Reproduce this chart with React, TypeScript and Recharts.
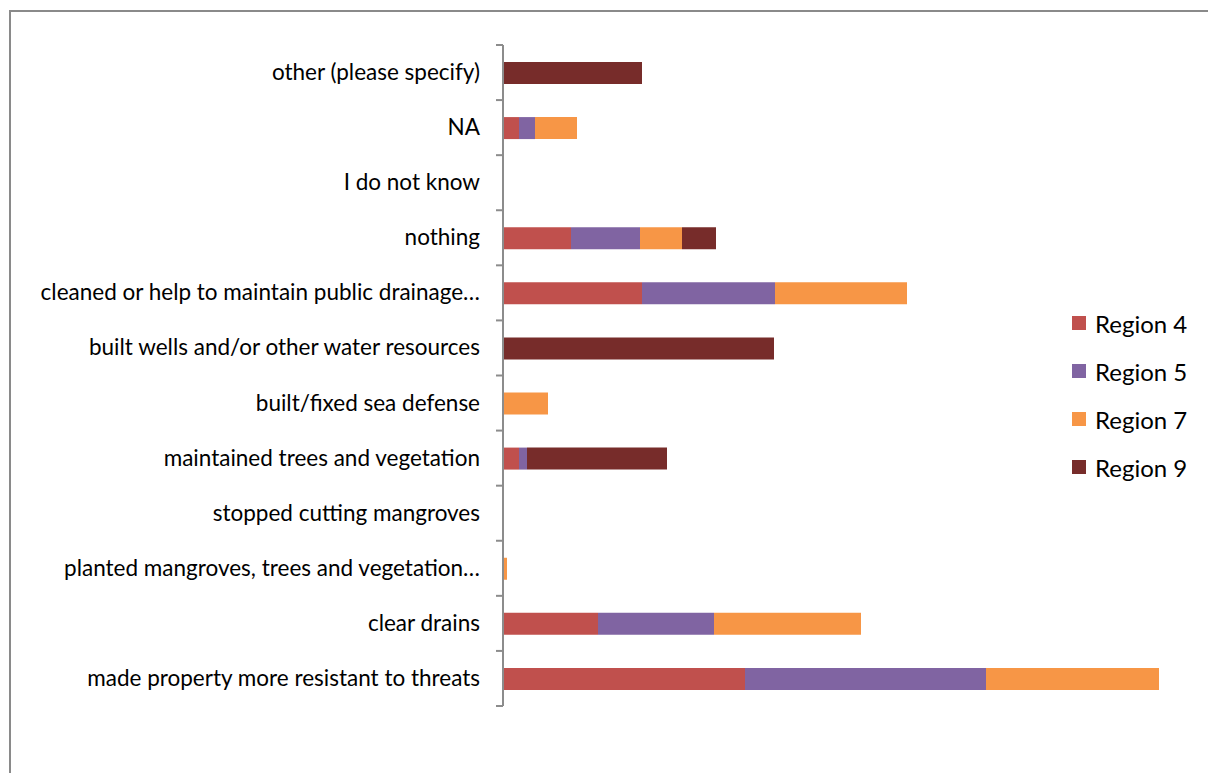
import React from 'react';
import { BarChart, Bar, XAxis, YAxis } from 'recharts';

const categories = [
  'other (please specify)',
  'NA',
  'I do not know',
  'nothing',
  'cleaned or help to maintain public drainage…',
  'built wells and/or other water resources',
  'built/fixed sea defense',
  'maintained trees and vegetation',
  'stopped cutting mangroves',
  'planted mangroves, trees and vegetation…',
  'clear drains',
  'made property more resistant to threats',
];

const region4 = [0, 1.6, 0, 6.8, 13.9, 0.1, 0, 1.6, 0, 0, 9.5, 24.2];
const region5 = [0, 1.6, 0, 6.9, 13.3, 0, 0, 0.8, 0, 0, 11.6, 24.1];
const region7 = [0, 4.2, 0, 4.2, 13.2, 0, 4.5, 0, 0, 0.4, 14.7, 17.3];
const region9 = [13.9, 0, 0, 3.4, 0, 27.0, 0, 14.0, 0, 0, 0, 0];

const seriesNames = ['Region 4', 'Region 5', 'Region 7', 'Region 9'];
const seriesColors = ['#C0504D', '#8064A2', '#F79646', '#772C2A'];

const data = categories.map((name, i) => ({
  name,
  'Region 4': region4[i],
  'Region 5': region5[i],
  'Region 7': region7[i],
  'Region 9': region9[i],
}));

const FONT = 'Lato, "Open Sans", sans-serif';
const W = 1208;
const H = 773;
const AXIS_X = 503;
const PLOT_TOP = 45;
const PLOT_BOTTOM = 706;
const BAND = (PLOT_BOTTOM - PLOT_TOP) / categories.length;

// Excel-style tick: label at band centre, tick marks on band boundaries
const CategoryTick = (props: any) => {
  const { y, payload, index } = props;
  return (
    <g>
      <text x={480} y={y} dy={7.5} textAnchor="end" fontSize={22.5} fill="#000" fontFamily={FONT}>
        {payload.value}
      </text>
      <line x1={AXIS_X - 7} x2={AXIS_X} y1={y - BAND / 2} y2={y - BAND / 2} stroke="#8c8c8c" strokeWidth={2} />
      {index === categories.length - 1 && (
        <line x1={AXIS_X - 7} x2={AXIS_X} y1={y + BAND / 2} y2={y + BAND / 2} stroke="#8c8c8c" strokeWidth={2} />
      )}
    </g>
  );
};

const App: React.FC = () => {
  return (
    <div style={{ position: 'relative', width: W, height: H, overflow: 'hidden', background: '#fff' }}>
      <style>{'body { margin: 0; }'}</style>
      <div
        style={{
          position: 'absolute',
          left: 9,
          top: 10,
          width: 1400,
          height: 1000,
          borderLeft: '2px solid #8a8a8a',
          borderTop: '2px solid #8a8a8a',
        }}
      />
      <div style={{ position: 'absolute', left: 0, top: 0 }}>
        <BarChart
          width={W}
          height={H}
          data={data}
          layout="vertical"
          margin={{ top: PLOT_TOP, right: 5, bottom: H - PLOT_BOTTOM, left: 0 }}
        >
          <XAxis type="number" domain={[0, 70]} hide />
          <YAxis
            type="category"
            dataKey="name"
            width={AXIS_X}
            axisLine={{ stroke: '#8c8c8c', strokeWidth: 2 }}
            tickLine={false}
            tick={<CategoryTick />}
            interval={0}
          />
          {seriesNames.map((s, i) => (
            <Bar key={s} dataKey={s} stackId="a" fill={seriesColors[i]} barSize={22} isAnimationActive={false} />
          ))}
        </BarChart>
      </div>
      <div style={{ position: 'absolute', left: 1072, top: 299, fontFamily: FONT, fontSize: 24 }}>
        {seriesNames.map((s, i) => (
          <div key={s} style={{ display: 'flex', alignItems: 'center', height: 48 }}>
            <div style={{ width: 14, height: 14, background: seriesColors[i], marginRight: 9 }} />
            <span>{s}</span>
          </div>
        ))}
      </div>
    </div>
  );
};

export default App;
